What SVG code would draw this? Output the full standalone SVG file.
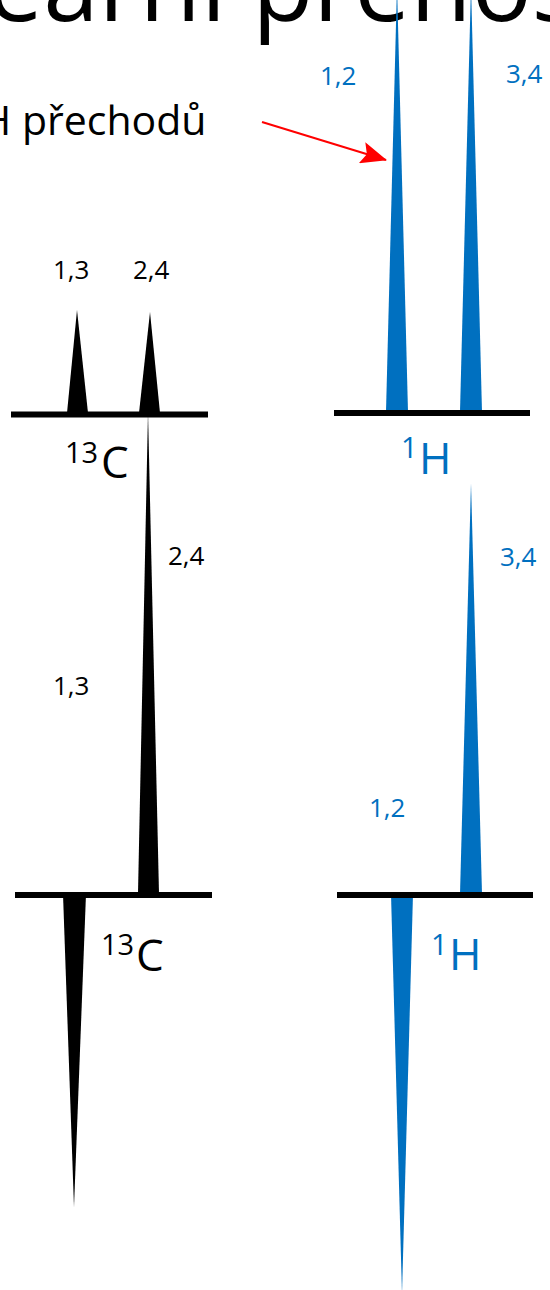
<svg xmlns="http://www.w3.org/2000/svg" width="550" height="1290" viewBox="0 0 550 1290">
<style>
text{font-family:"Open Sans","Liberation Sans",sans-serif}
.k{fill:#000}
.b{fill:#0070C0}
.lbl{font-size:26px}
.nuc{font-size:44px}
.sup{font-size:29px}
.axis{stroke:#000;stroke-width:6;fill:none}
</style>
<defs>
<marker id="ah" viewBox="0 0 26 22" refX="25" refY="11" markerWidth="26" markerHeight="22" markerUnits="userSpaceOnUse" orient="auto">
<path d="M0,0 L26,11 L0,22 L5,11 Z" fill="#FF0000"/>
</marker>
</defs>
<rect width="550" height="1290" fill="#fff"/>
<g id="title">
<text x="-13" y="21" style="font-size:100px" class="k">eární přenos</text>
<text x="-19" y="135" style="font-size:41px" class="k">H přechodů</text>
</g>
<g id="panel-13C-top">
<polygon class="k" points="67,413 77,310 88,413"/>
<polygon class="k" points="139,413 150,312 160,413"/>
<line class="axis" x1="11" y1="414.5" x2="208" y2="414.5"/>
<text class="k lbl" x="53" y="279">1,3</text>
<text class="k lbl" x="133" y="279">2,4</text>
<text class="k sup" x="65" y="463">13</text>
<text class="k nuc" x="101" y="478">C</text>
</g>
<g id="panel-1H-top">
<polygon class="b" points="386,412 397,-15 408,412"/>
<polygon class="b" points="460,412 471,-15 482,412"/>
<line class="axis" x1="334" y1="413" x2="530" y2="413"/>
<text class="b lbl" x="320" y="85">1,2</text>
<text class="b lbl" x="506" y="83">3,4</text>
<text class="b sup" x="401" y="458">1</text>
<text class="b nuc" x="419" y="474">H</text>
</g>
<g id="panel-13C-bottom">
<polygon class="k" points="138,894 148,412 159,894"/>
<polygon class="k" points="63,894 74,1207 86,894"/>
<line class="axis" x1="15" y1="895" x2="212" y2="895"/>
<text class="k lbl" x="168" y="565">2,4</text>
<text class="k lbl" x="53" y="695">1,3</text>
<text class="k sup" x="101" y="955">13</text>
<text class="k nuc" x="136" y="971">C</text>
</g>
<g id="panel-1H-bottom">
<polygon class="b" points="460,894 471,483 482,894"/>
<polygon class="b" points="391,894 402,1294 413,894"/>
<line class="axis" x1="337" y1="895" x2="533" y2="895"/>
<text class="b lbl" x="500" y="566">3,4</text>
<text class="b lbl" x="369" y="817">1,2</text>
<text class="b sup" x="431" y="955">1</text>
<text class="b nuc" x="449" y="970">H</text>
</g>
<g id="connectors">
<line x1="262" y1="122" x2="386" y2="160" stroke="#FF0000" stroke-width="2" marker-end="url(#ah)"/>
</g>
</svg>
